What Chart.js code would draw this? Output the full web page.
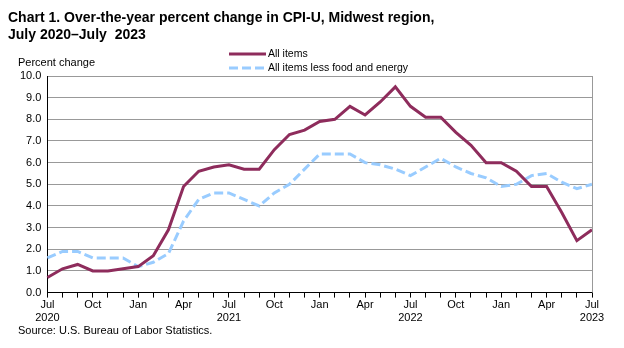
<!DOCTYPE html>
<html>
<head>
<meta charset="utf-8">
<script src="https://cdn.jsdelivr.net/npm/chart.js@4"></script>
<style>
  html, body { margin: 0; padding: 0; background: #fff; }
  #wrap { position: relative; width: 624px; height: 348px; }
</style>
</head>
<body>
<div id="wrap"><canvas id="cpiChart" width="624" height="348"></canvas></div>
<script>
// months Jul 2020 .. Jul 2023
const months = ['Jul','Aug','Sep','Oct','Nov','Dec','Jan','Feb','Mar','Apr','May','Jun',
  'Jul','Aug','Sep','Oct','Nov','Dec','Jan','Feb','Mar','Apr','May','Jun',
  'Jul','Aug','Sep','Oct','Nov','Dec','Jan','Feb','Mar','Apr','May','Jun','Jul']
const julyYears = { 0: '2020', 12: '2021', 24: '2022', 36: '2023' }

const allItems = [0.7, 1.1, 1.3, 1.0, 1.0, 1.1, 1.2, 1.7, 2.9, 4.9, 5.6, 5.8,
  5.9, 5.7, 5.7, 6.6, 7.3, 7.5, 7.9, 8.0, 8.6, 8.2, 8.8, 9.5,
  8.6, 8.1, 8.1, 7.4, 6.8, 6.0, 6.0, 5.6, 4.9, 4.9, 3.7, 2.4, 2.9]
const lessFoodEnergy = [1.6, 1.9, 1.9, 1.6, 1.6, 1.6, 1.2, 1.4, 1.8, 3.3, 4.3, 4.6,
  4.6, 4.3, 4.0, 4.6, 5.0, 5.7, 6.4, 6.4, 6.4, 6.0, 5.9, 5.7,
  5.4, 5.8, 6.2, 5.8, 5.5, 5.3, 4.9, 5.0, 5.4, 5.5, 5.1, 4.8, 5.0]

const purple = '#8e2c5c'
const lightBlue = '#99ccff'
const font = 'Liberation Sans, Arial, sans-serif'

// title, legend, axis note, source and right border
const decorations = {
  id: 'decorations',
  afterDraw(chart) {
    const c = chart.ctx
    const area = chart.chartArea
    c.save()
    c.fillStyle = '#000'
    c.textBaseline = 'alphabetic'
    c.font = 'bold 14px ' + font
    c.fillText('Chart 1. Over-the-year percent change in CPI-U, Midwest region,', 8, 22)
    c.fillText('July 2020\u2013July  2023', 8, 39)

    c.font = '11px ' + font
    c.fillText('Percent change', 18, 66)
    c.fillText('Source: U.S. Bureau of Labor Statistics.', 18, 334)

    // legend
    c.lineWidth = 3
    c.strokeStyle = purple
    c.beginPath(); c.moveTo(229, 54); c.lineTo(266, 54); c.stroke()
    c.strokeStyle = lightBlue
    c.setLineDash([9, 4])
    c.beginPath(); c.moveTo(229, 68); c.lineTo(266, 68); c.stroke()
    c.setLineDash([])
    c.fillStyle = '#000'
    c.textBaseline = 'middle'
    c.font = '10.5px ' + font
    c.fillText('All items', 268, 54)
    c.fillText('All items less food and energy', 268, 68)

    // right border
    c.lineWidth = 1
    c.strokeStyle = '#999'
    c.beginPath(); c.moveTo(area.right + 0.5, area.top); c.lineTo(area.right + 0.5, area.bottom); c.stroke()
    c.restore()
  }
}

var ctx = document.getElementById('cpiChart')

var cpiChart = new Chart(ctx, {
  type: 'line',
  data: {
    labels: months,
    datasets: [{
      label: 'All items',
      data: allItems,
      borderColor: purple,
      borderWidth: 3,
      pointRadius: 0,
      fill: false,
      tension: 0
    }, {
      label: 'All items less food and energy',
      data: lessFoodEnergy,
      borderColor: lightBlue,
      borderWidth: 3,
      borderDash: [9, 4],
      pointRadius: 0,
      fill: false,
      tension: 0
    }]
  },
  options: {
    responsive: false,
    animation: false,
    layout: { padding: { top: 76, left: 14, right: 32, bottom: 22 } },
    plugins: {
      legend: { display: false },
      title: { display: false },
      tooltip: { enabled: false }
    },
    scales: {
      x: {
        offset: false,
        grid: { drawOnChartArea: false, color: '#000', tickLength: 5 },
        border: { color: '#000' },
        ticks: {
          autoSkip: false,
          maxRotation: 0,
          padding: 1,
          color: '#000',
          font: { family: font, size: 11 },
          callback: function(val, i) {
            if (i % 3 !== 0) return ''
            if (julyYears[i]) return [months[i], julyYears[i]]
            return months[i]
          }
        }
      },
      y: {
        min: 0,
        max: 10,
        ticks: {
          stepSize: 1,
          color: '#000',
          padding: 6,
          font: { family: font, size: 11 },
          callback: function(v) { return v.toFixed(1) }
        },
        grid: { color: '#999', tickLength: 0 },
        border: { color: '#000' }
      }
    }
  },
  plugins: [decorations]
});
</script>
</body>
</html>
